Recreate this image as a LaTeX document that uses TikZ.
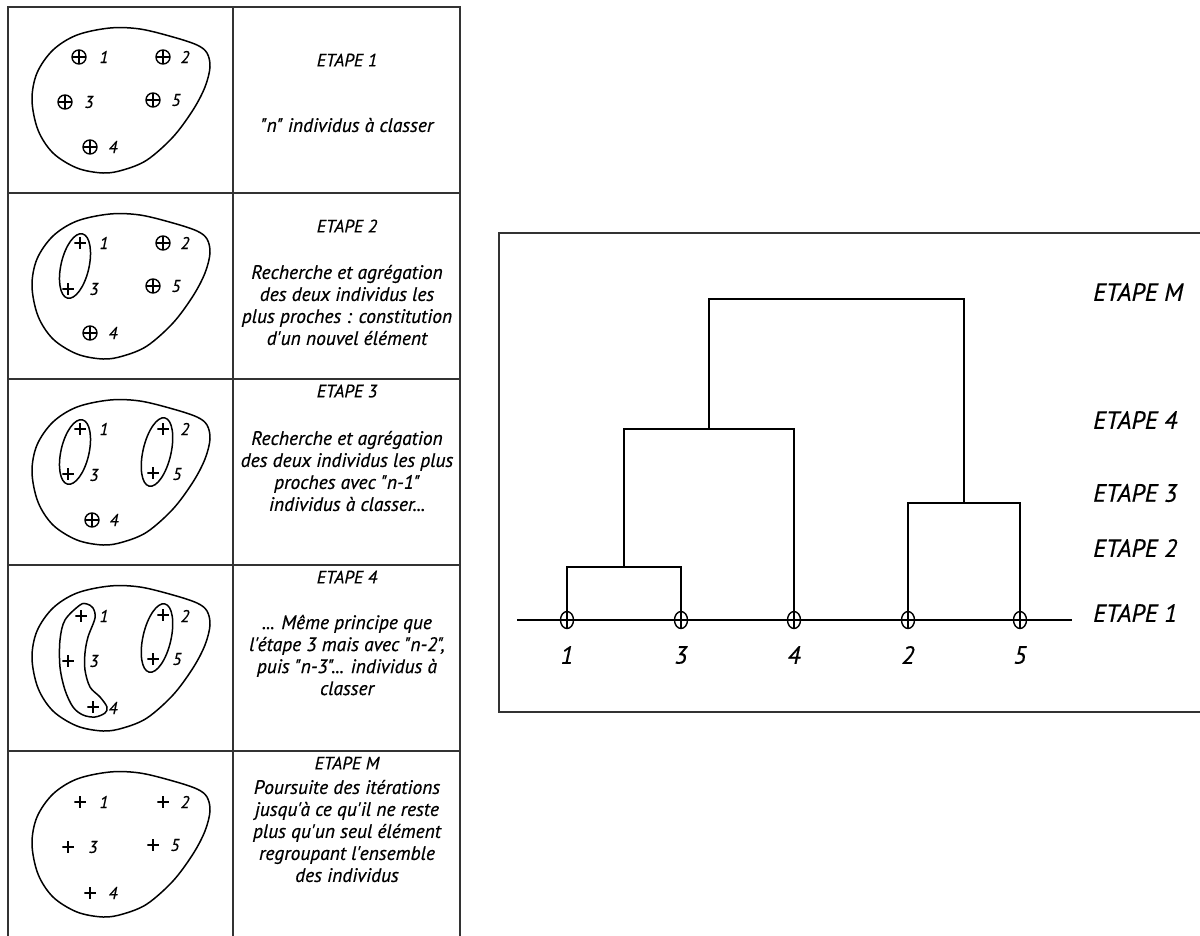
\documentclass[tikz,border=0pt]{standalone}
\usepackage{fontspec}
\setmainfont{PT Sans}
\newfontfamily\txtfont[FakeBold=0.5]{PT Sans}
\usetikzlibrary{shapes.geometric}
\begin{document}
\begin{tikzpicture}[x=1pt,y=-1pt,
  frame/.style={line width=1.8pt, draw=black!80},
  curve/.style={line width=1.5pt},
  pc/.style={circle, draw, line width=1.4pt, minimum size=14pt, inner sep=0pt,
    path picture={\draw[line width=1.3pt] (path picture bounding box.north) -- (path picture bounding box.south)
      (path picture bounding box.west) -- (path picture bounding box.east);}},
  pl/.style={minimum size=11.5pt, inner sep=0pt,
    path picture={\draw[line width=1.6pt] (path picture bounding box.north) -- (path picture bounding box.south)
      (path picture bounding box.west) -- (path picture bounding box.east);}},
  num/.style={font=\txtfont\fontsize{17}{17}\selectfont\itshape, inner sep=0pt},
  ttl/.style={font=\txtfont\fontsize{18}{22}\selectfont\itshape, inner sep=0pt},
  body/.style={font=\txtfont\fontsize{19.5}{22}\selectfont\itshape, inner sep=0pt, align=center},
  leaf/.style={ellipse, draw, line width=1.4pt, minimum width=13pt, minimum height=17pt, inner sep=0pt, fill=white,
    path picture={\draw[line width=1.4pt] (path picture bounding box.north) -- (path picture bounding box.south)
      (path picture bounding box.west) -- (path picture bounding box.east);}},
  big/.style={font=\txtfont\fontsize{25}{25}\selectfont\itshape, inner sep=0pt},
  dendro/.style={line width=1.8pt}
]
\useasboundingbox (0,0) rectangle (1200,935);
\fill[white] (0,0) rectangle (1200,935);
\clip (0,0) rectangle (1200,935);

% ---------------- table ----------------
\draw[frame] (8,945) -- (8,7) -- (460,7) -- (460,945);
\draw[frame] (233,7) -- (233,945);
\foreach \yy in {193,379,565,751} \draw[frame] (8,\yy) -- (460,\yy);

\newcommand{\blobpath}{plot[smooth cycle, tension=0.55] coordinates {(110,21) (140,22) (173,30) (197,38) (207,46) (210,60) (205,80) (193,103) (173,130) (147,153) (123,163) (103,166) (77,161) (53,146) (38,123) (32,93) (37,66) (53,43) (77,28)}}

% Row 1
\begin{scope}[shift={(0,7)}]
  \draw[curve] \blobpath;
  \node[pc] (a1) at (79,50) {}; \node[num] (la1) at (104,50) {1};
  \node[pc] (a2) at (163,50) {}; \node[num] (la2) at (185,50) {2};
  \node[pc] (a3) at (65,95) {}; \node[num] (la3) at (89,95) {3};
  \node[pc] (a5) at (153,93) {}; \node[num] (la5) at (176,93) {5};
  \node[pc] (a4) at (90,140) {}; \node[num] (la4) at (113,140) {4};
\end{scope}
\node[ttl] (t1) at (347,60) {ETAPE 1};
\node[body] (b1) at (347,125) {"n" individus à classer};

% Row 2
\begin{scope}[shift={(0,193)}]
  \draw[curve] \blobpath;
  \draw[curve, rotate around={-13:(75,73)}] (75,73) ellipse [x radius=14, y radius=33];
  \node[pl] (b1p) at (80,50) {}; \node[num] (lb1) at (104,50) {1};
  \node[pc] (b2) at (163,50) {}; \node[num] (lb2) at (185,50) {2};
  \node[pl] (b3p) at (68,96) {}; \node[num] (lb3) at (94,96) {3};
  \node[pc] (b5) at (153,93) {}; \node[num] (lb5) at (176,93) {5};
  \node[pc] (b4) at (90,140) {}; \node[num] (lb4) at (113,140) {4};
\end{scope}
\node[ttl] (t2) at (347,226) {ETAPE 2};
\node[body] (bd2) at (347,305) {Recherche et agrégation\\des deux individus les\\plus proches : constitution\\d'un nouvel élément};

% Row 3
\begin{scope}[shift={(0,379)}]
  \draw[curve] \blobpath;
  \draw[curve, rotate around={-13:(75,73)}] (75,73) ellipse [x radius=14, y radius=33];
  \draw[curve, rotate around={-13:(157,73)}] (157,73) ellipse [x radius=14, y radius=35];
  \node[pl] (c1p) at (80,50) {}; \node[num] (lc1) at (104,50) {1};
  \node[pl] (c2p) at (163,50) {}; \node[num] (lc2) at (185,50) {2};
  \node[pl] (c3p) at (68,95) {}; \node[num] (lc3) at (94,96) {3};
  \node[pl] (c5p) at (153,94) {}; \node[num] (lc5) at (177,95) {5};
  \node[pc] (c4) at (92,141) {}; \node[num] (lc4) at (114,141) {4};
\end{scope}
\node[ttl] (t3) at (347,391) {ETAPE 3};
\node[body] (bd3) at (347,471) {Recherche et agrégation\\des deux individus les plus\\proches avec "n-1"\\individus à classer...};

% Row 4
\begin{scope}[shift={(0,565)}]
  \draw[curve] \blobpath;
  \draw[curve] plot[smooth cycle, tension=0.55] coordinates {(80,40) (65,55) (60,75) (60,102) (65,125) (73,142) (83,150) (95,152) (105,148) (107,142) (100,132) (90,122) (85,105) (85,88) (88,72) (95,53) (93,43) (87,39)};
  \draw[curve, rotate around={-13:(157,73)}] (157,73) ellipse [x radius=14, y radius=35];
  \node[pl] (d1p) at (81,51) {}; \node[num] (ld1) at (104,51) {1};
  \node[pl] (d2p) at (163,50) {}; \node[num] (ld2) at (185,51) {2};
  \node[pl] (d3p) at (68,96) {}; \node[num] (ld3) at (94,96) {3};
  \node[pl] (d5p) at (153,94) {}; \node[num] (ld5) at (177,94) {5};
  \node[pl] (d4p) at (93,142) {}; \node[num] (ld4) at (113,143) {4};
\end{scope}
\node[ttl] (t4) at (347,577) {ETAPE 4};
\node[body] (bd4) at (347,655) {... Même principe que\\l'étape 3 mais avec "n-2",\\puis "n-3"... individus à\\classer};

% Row 5
\begin{scope}[shift={(0,751)}]
  \draw[curve] \blobpath;
  \node[pl] (e1p) at (80,51) {}; \node[num] (le1) at (104,51) {1};
  \node[pl] (e2p) at (163,51) {}; \node[num] (le2) at (185,51) {2};
  \node[pl] (e3p) at (68,96) {}; \node[num] (le3) at (93,96) {3};
  \node[pl] (e5p) at (153,94) {}; \node[num] (le5) at (175,94) {5};
  \node[pl] (e4p) at (90,142) {}; \node[num] (le4) at (113,142) {4};
\end{scope}
\node[ttl] (t5) at (347,763) {ETAPE M};
\node[body] (bd5) at (347,831) {Poursuite des itérations\\jusqu'à ce qu'il ne reste\\plus qu'un seul élément\\regroupant l'ensemble\\des individus};

% ---------------- dendrogram ----------------
\draw[frame] (1215,233) -- (499,233) -- (499,712) -- (1215,712);
\coordinate (bl) at (517,620);
\coordinate (br) at (1072,620);
\draw[dendro] (bl) -- (br);
\node[leaf] (L1) at (567,620) {};
\node[leaf] (L3) at (681,620) {};
\node[leaf] (L4) at (794,620) {};
\node[leaf] (L2) at (908,620) {};
\node[leaf] (L5) at (1020,620) {};
\coordinate (m13) at (624,567);
\coordinate (m25) at (964,503);
\coordinate (m134) at (709,429);
\coordinate (mtop) at (836,299);
\draw[dendro] (L1.north) |- (m13) -| (L3.north);
\draw[dendro] (m13) |- (m134) -| (L4.north);
\draw[dendro] (L2.north) |- (m25) -| (L5.north);
\draw[dendro] (m134) |- (mtop) -| (m25);
\node[big] (n1) at (567,655) {1};
\node[big] (n3) at (681,655) {3};
\node[big] (n4) at (794,655) {4};
\node[big] (n2) at (908,655) {2};
\node[big] (n5) at (1020,655) {5};
\node[big, anchor=west] (sM) at (1093,292) {ETAPE M};
\node[big, anchor=west] (s4) at (1093,420) {ETAPE 4};
\node[big, anchor=west] (s3) at (1093,493) {ETAPE 3};
\node[big, anchor=west] (s2) at (1093,548) {ETAPE 2};
\node[big, anchor=west] (s1) at (1093,613) {ETAPE 1};
\end{tikzpicture}
\end{document}
